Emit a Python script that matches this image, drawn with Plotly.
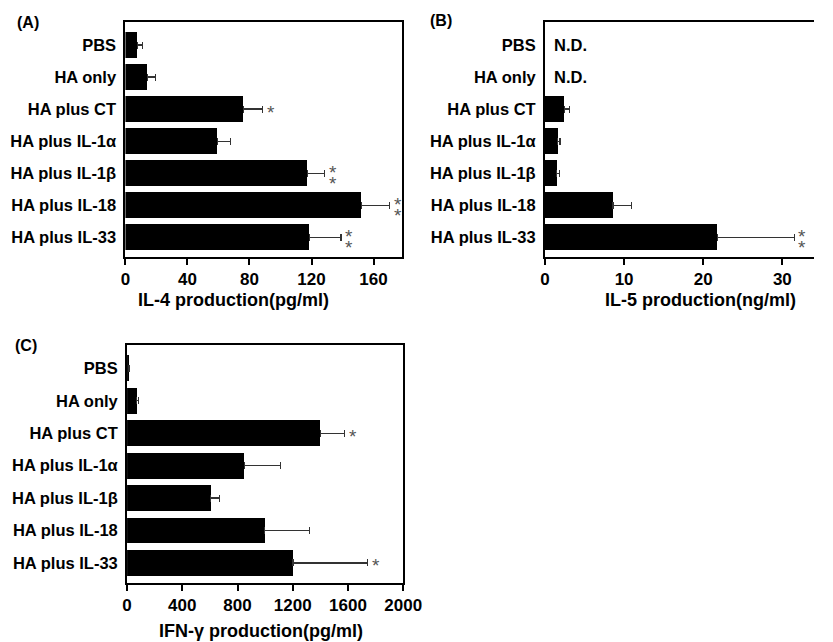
import plotly.graph_objects as go

categories = ["PBS", "HA only", "HA plus CT", "HA plus IL-1α", "HA plus IL-1β", "HA plus IL-18", "HA plus IL-33"]

il4_mean = [8, 14, 76, 59.5, 117.5, 152, 118.5]
il4_err = [3, 5.5, 12.5, 8.5, 11, 18.5, 20.5]
il4_sig = ["", "", "*", "", "**", "**", "**"]

il5_mean = [None, None, 2.45, 1.6, 1.5, 8.6, 21.8]
il5_err = [None, None, 0.65, 0.3, 0.3, 2.3, 9.7]
il5_sig = ["", "", "", "", "", "", "**"]
il5_nd = ["N.D.", "N.D.", "", "", "", "", ""]

ifn_mean = [14, 70, 1400, 850, 605, 998, 1202]
ifn_err = [6, 10, 177, 259, 63, 326, 540]
ifn_sig = ["", "", "*", "", "", "", "*"]

FONT = "Liberation Sans, Arial, Helvetica, sans-serif"
W, H = 833, 642


def fx(px):
    return px / W


def fy(py):
    return 1 - py / H


panels = [
    dict(mean=il4_mean, err=il4_err, sig=il4_sig, xr=[0, 178.5], dtick=40,
         dom_x=[fx(124), fx(409)], dom_y=[fy(257), fy(22)], mirror_y=True),
    dict(mean=il5_mean, err=il5_err, sig=il5_sig, xr=[0, 34.0], dtick=10,
         dom_x=[fx(556), 1.0], dom_y=[fy(257), fy(22)], mirror_y=False),
    dict(mean=ifn_mean, err=ifn_err, sig=ifn_sig, xr=[0, 2000], dtick=400,
         dom_x=[fx(125.7), fx(410)], dom_y=[fy(583), fy(345)], mirror_y=True),
]

fig = go.Figure()
pos = list(range(len(categories)))
layout = {}
annotations = []
STAR = dict(family=FONT, size=19, color="#555555")

for i, p in enumerate(panels):
    n = "" if i == 0 else str(i + 1)
    xa, ya = "x" + n, "y" + n
    fig.add_trace(go.Bar(
        x=p["mean"], y=pos, orientation="h", width=0.8,
        marker=dict(color="black", line=dict(width=0)),
        error_x=dict(type="data", array=p["err"], arrayminus=[0] * 7, symmetric=False,
                     color="#333333", thickness=1.2, width=3.5),
        xaxis=xa, yaxis=ya, showlegend=False, hoverinfo="skip",
    ))
    layout["xaxis" + n] = dict(
        domain=p["dom_x"], range=p["xr"], dtick=p["dtick"], tick0=0,
        showline=True, linecolor="black", linewidth=2, mirror=True,
        ticks="outside", ticklen=6, tickwidth=2, tickcolor="black",
        showgrid=False, zeroline=False, anchor=ya,
        tickfont=dict(family=FONT, size=17, color="black", weight="bold"),
    )
    layout["yaxis" + n] = dict(
        domain=p["dom_y"], range=[6.62, -0.72], tickvals=pos, ticktext=categories,
        showline=True, linecolor="black", linewidth=2, mirror=p["mirror_y"],
        ticks="", showgrid=False, zeroline=False, anchor=xa, ticklabelstandoff=4,
        tickfont=dict(family=FONT, size=16.5, color="black", weight="bold"),
    )
    for j, s in enumerate(p["sig"]):
        if not s:
            continue
        xend = p["mean"][j] + p["err"][j]
        shifts = [-3] if s == "*" else [1, -10]
        for ys in shifts:
            annotations.append(dict(x=xend, y=j, xref=xa, yref=ya, text="*", showarrow=False,
                                    xanchor="left", xshift=2, yshift=ys,
                                    font=STAR))

for j, t in enumerate(il5_nd):
    if t:
        annotations.append(dict(x=0, y=j, xref="x2", yref="y2", text=t, showarrow=False,
                                xanchor="left", xshift=7,
                                font=dict(family=FONT, size=16.5, color="black", weight="bold")))

titles = [("IL-4 production(pg/ml)", 235, 300), ("IL-5 production(ng/ml)", 716, 300),
          ("IFN-γ production(pg/ml)", 264, 631)]
for t, px, py in titles:
    annotations.append(dict(x=fx(px), y=fy(py), xref="paper", yref="paper", text=t,
                            showarrow=False, xanchor="center", yanchor="middle",
                            font=dict(family=FONT, size=18, color="black", weight="bold")))

labels = [("(A)", 24, 22), ("(B)", 449, 20), ("(C)", 22, 346)]
for t, px, py in labels:
    annotations.append(dict(x=fx(px), y=fy(py), xref="paper", yref="paper", text=t,
                            showarrow=False, xanchor="center", yanchor="middle",
                            font=dict(family=FONT, size=16, color="black", weight="bold")))

fig.update_layout(
    width=W, height=H, margin=dict(l=0, r=0, t=0, b=0),
    paper_bgcolor="white", plot_bgcolor="white",
    annotations=annotations, bargap=0, **layout,
)

fig.write_html(
    "out.html",
    config={"displayModeBar": False},
    post_script="document.body.style.margin='0';document.body.style.overflow='hidden';",
)
